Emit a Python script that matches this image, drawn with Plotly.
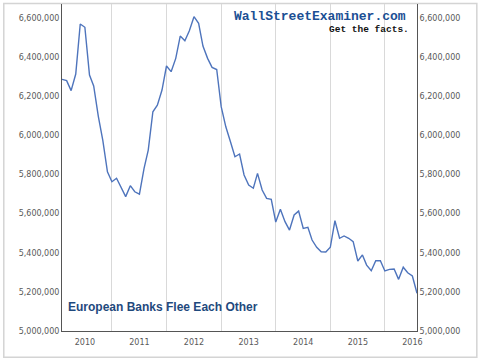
import pandas as pd
import plotly.graph_objects as go

# Monthly values, Aug 2009 .. Feb 2016
values = [
    6287000, 6280000, 6229000, 6314000, 6570000,                      # 2009 Aug-Dec
    6553000, 6309000, 6253000, 6098000, 5975000, 5814000,
    5763000, 5781000, 5730000, 5687000, 5743000, 5712000,             # 2010
    5700000, 5832000, 5925000, 6121000, 6155000, 6232000,
    6355000, 6326000, 6394000, 6508000, 6484000, 6535000,             # 2011
    6607000, 6573000, 6457000, 6394000, 6348000, 6337000,
    6147000, 6044000, 5968000, 5891000, 5905000, 5798000,             # 2012
    5746000, 5730000, 5806000, 5721000, 5678000, 5673000,
    5557000, 5622000, 5559000, 5516000, 5593000, 5613000,             # 2013
    5525000, 5530000, 5465000, 5428000, 5405000, 5404000,
    5428000, 5564000, 5474000, 5486000, 5474000, 5457000,             # 2014
    5358000, 5389000, 5337000, 5308000, 5359000, 5359000,
    5307000, 5315000, 5317000, 5264000, 5326000, 5298000,             # 2015
    5281000, 5193000,                                                  # 2016 Jan-Feb
]
start_month = "2009-08-01"
months = pd.date_range(start_month, periods=len(values), freq="MS")

year_ticks = ["2010-01-01", "2011-01-01", "2012-01-01", "2013-01-01",
              "2014-01-01", "2015-01-01", "2016-01-01"]
year_labels = ["2010", "2011", "2012", "2013", "2014", "2015", "2016"]
y_ticks = [5000000, 5200000, 5400000, 5600000, 5800000, 6000000,
           6200000, 6400000, 6600000]
y_labels = ["{:,}".format(v) for v in y_ticks]

title_text = "European Banks Flee Each Other"
brand_text = "WallStreetExaminer.com"
slogan_text = "Get the facts."

y_range = [5000000, 6672000]
tick_font = dict(family="DejaVu Sans", size=8, color="#595959")
axis_col = "#555555"

fig = go.Figure()
fig.add_trace(go.Scatter(
    x=months, y=values, mode="lines",
    line=dict(color="#4E74BC", width=1.4),
    hoverinfo="skip", showlegend=False,
))
# Invisible companion trace so the right axis is drawn
fig.add_trace(go.Scatter(x=[months[0]], y=[values[0]], yaxis="y2", mode="lines",
                         line=dict(width=0), hoverinfo="skip", showlegend=False))

fig.update_layout(
    width=480, height=361,
    margin=dict(l=62, r=63, t=4, b=30),
    paper_bgcolor="white", plot_bgcolor="white",
    xaxis=dict(
        type="date",
        range=["2009-08-01", "2016-02-01"],
        tickmode="array", tickvals=year_ticks, ticktext=year_labels,
        showgrid=False, ticks="", tickfont=tick_font, ticklabelstandoff=3,
        showline=True, linecolor=axis_col, linewidth=1,
        zeroline=False,
        minor=dict(tick0="2009-07-01", dtick="M12", showgrid=True,
                   gridcolor="#d9d9d9", gridwidth=1.3, ticks=""),
    ),
    yaxis=dict(
        range=y_range, tickmode="array", tickvals=y_ticks, ticktext=y_labels,
        showgrid=False, zeroline=False, ticks="", tickfont=tick_font,
        showline=True, linecolor=axis_col, linewidth=1,
    ),
    yaxis2=dict(
        range=y_range, overlaying="y", side="right", matches="y",
        tickmode="array", tickvals=y_ticks, ticktext=y_labels,
        showgrid=False, zeroline=False, ticks="", tickfont=tick_font,
        showline=True, linecolor=axis_col, linewidth=1,
    ),
    shapes=[dict(type="rect", xref="paper", yref="paper",
                 x0=-0.164, x1=1.1685, y0=-0.0805, y1=1.0015,
                 line=dict(color="#d4d4d4", width=1.5), layer="below")],
    annotations=[
        dict(text="<b>" + title_text + "</b>", xref="paper", yref="paper",
             x=0.012, y=0.074, xanchor="left", yanchor="middle", showarrow=False,
             font=dict(family="Liberation Sans", size=12, color="#1F497D")),
        dict(text="<b>" + brand_text + "</b>", xref="paper", yref="paper",
             x=0.975, y=0.963, xanchor="right", yanchor="middle", showarrow=False,
             font=dict(family="Liberation Mono", size=13, color="#1B4F94")),
        dict(text="<b>" + slogan_text + "</b>", xref="paper", yref="paper",
             x=0.9835, y=0.922, xanchor="right", yanchor="middle", showarrow=False,
             font=dict(family="Liberation Mono", size=9.5, color="#111111")),
    ],
)

fig.write_html("out.html",
               config={"displayModeBar": False},
               post_script="document.body.style.margin='0';document.body.style.padding='0';")
